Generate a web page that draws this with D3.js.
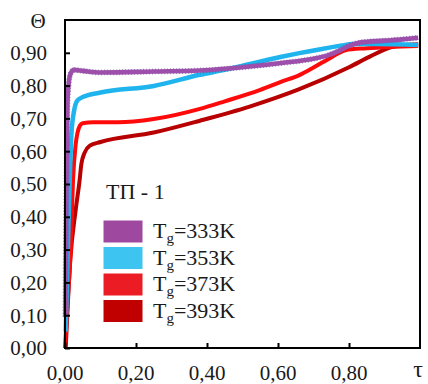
<html>
<head>
<meta charset="utf-8">
<script src="https://cdn.jsdelivr.net/npm/d3@7"></script>
</head>
<body style="margin:0;background:#fff">
<svg id="chart" width="428" height="384" style="display:block">
  <text x="38" y="28" text-anchor="middle" font-family="Liberation Serif" fill="#1a1a1a" font-size="21">Θ</text>
  <text x="418" y="377" text-anchor="middle" font-family="Liberation Serif" fill="#1a1a1a" font-size="24">τ</text>
  <text x="106" y="199" font-family="Liberation Serif" fill="#1a1a1a" font-size="22">ТП - 1</text>
</svg>
<script>
// ---- data ----
const xTicks = [0, 0.2, 0.4, 0.6, 0.8];
const yTicks = [0, 0.1, 0.2, 0.3, 0.4, 0.5, 0.6, 0.7, 0.8, 0.9];
const seriesNames = ["333K", "353K", "373K", "393K"];

const tau333 =   [0.001,0.004,0.007,0.010,0.015,0.025,0.05,0.10,0.25,0.38,0.52,0.61,0.70,0.74,0.77,0.80,0.83,0.90,0.95,0.995];
const theta333 = [0.095,0.50,0.75,0.80,0.835,0.848,0.845,0.840,0.843,0.846,0.858,0.869,0.882,0.892,0.905,0.921,0.931,0.937,0.941,0.946];

const tau353 =   [0.002,0.008,0.013,0.018,0.025,0.035,0.05,0.10,0.25,0.38,0.45,0.52,0.61,0.66,0.72,0.78,0.81,0.87,0.995];
const theta353 = [0.05,0.30,0.50,0.65,0.72,0.755,0.765,0.779,0.799,0.833,0.848,0.866,0.888,0.899,0.911,0.922,0.927,0.927,0.924];

const tau373 =   [0.0,0.008,0.016,0.0225,0.03,0.035,0.042,0.05,0.08,0.15,0.25,0.38,0.45,0.55,0.61,0.66,0.70,0.75,0.79,0.85,0.995];
const theta373 = [0.0,0.15,0.30,0.51,0.62,0.655,0.678,0.685,0.688,0.688,0.698,0.729,0.752,0.787,0.812,0.832,0.855,0.886,0.908,0.914,0.921];

const tau393 =   [0.002,0.015,0.03,0.041,0.046,0.055,0.07,0.10,0.25,0.38,0.52,0.66,0.80,0.86,0.915,0.95,0.995];
const theta393 = [0.0,0.27,0.42,0.51,0.56,0.595,0.617,0.628,0.657,0.693,0.736,0.789,0.856,0.889,0.916,0.923,0.926];

// ---- chart ----
const FONT = "Liberation Serif";
const svg = d3.select("#chart");
const x = d3.scaleLinear().domain([0, 1]).range([65, 420]);
const y = d3.scaleLinear().domain([0, 1]).range([348, 20]);
const fmt = v => d3.format(".2f")(v).replace(".", ",");
const txtColor = "#1a1a1a";

const line = d3.line().x(d => x(d[0])).y(d => y(d[1])).curve(d3.curveMonotoneX);
const zip = (a, b) => a.map((v, i) => [v, b[i]]);

const plot = svg.append("g");
plot.append("path").datum(zip(tau393, theta393)).attr("d", line)
  .attr("fill", "none").attr("stroke", "#b80000").attr("stroke-width", 4);
plot.append("path").datum(zip(tau373, theta373)).attr("d", line)
  .attr("fill", "none").attr("stroke", "#ff0a0a").attr("stroke-width", 4);
plot.append("path").datum(zip(tau353, theta353)).attr("d", line)
  .attr("fill", "none").attr("stroke", "#1fb4ee").attr("stroke-width", 4.5);
plot.append("path").datum(zip(tau333, theta333)).attr("d", line)
  .attr("fill", "none").attr("stroke", "#3a3f86").attr("stroke-width", 5.8)
  .attr("stroke-dasharray", "1,2").attr("opacity", 0.55);
plot.append("path").datum(zip(tau333, theta333)).attr("d", line)
  .attr("fill", "none").attr("stroke", "#9d4fab").attr("stroke-width", 4.6);

// frame
svg.append("rect").attr("x", x(0)).attr("y", y(1))
  .attr("width", x(1) - x(0)).attr("height", y(0) - y(1))
  .attr("fill", "none").attr("stroke", "#000").attr("stroke-width", 2);

// y ticks (inward) and labels
const yAxis = d3.axisRight(y).tickValues(yTicks).tickSize(5).tickFormat("");
const gy = svg.append("g").attr("transform", `translate(${x(0)},0)`).call(yAxis);
gy.select(".domain").remove();
gy.selectAll("line").attr("stroke", "#000").attr("stroke-width", 2);
svg.append("g").selectAll("text").data(yTicks).join("text")
  .attr("x", 47).attr("y", d => y(d)).attr("dy", "0.35em").attr("fill", txtColor)
  .attr("font-family", FONT).attr("text-anchor", "end").attr("font-size", 21).text(fmt);

// x ticks (inward) and labels
const xAxis = d3.axisTop(x).tickValues(xTicks).tickSize(5).tickFormat("");
const gx = svg.append("g").attr("transform", `translate(0,${y(0)})`).call(xAxis);
gx.select(".domain").remove();
gx.selectAll("line").attr("stroke", "#000").attr("stroke-width", 2);
svg.append("g").selectAll("text").data(xTicks).join("text")
  .attr("x", d => x(d)).attr("y", 380).attr("fill", txtColor)
  .attr("font-family", FONT).attr("text-anchor", "middle").attr("font-size", 21).text(fmt);

// legend
const legColors = ["#9e48a0", "#3ec4f0", "#ec1c24", "#c00000"];
const leg = svg.append("g").selectAll("g").data(seriesNames).join("g")
  .attr("transform", (d, i) => `translate(103,${220 + i * 26.5})`);
leg.append("rect").attr("width", 40).attr("height", 23)
  .attr("fill", (d, i) => legColors[i]).attr("stroke", "#fff").attr("stroke-width", 1);
const lt = leg.append("text").attr("x", 50).attr("y", 18).attr("fill", txtColor)
  .attr("font-family", FONT).attr("font-size", 22);
lt.append("tspan").text("T");
lt.append("tspan").attr("dy", 5).attr("font-size", 15).text("g");
lt.append("tspan").attr("dy", -5).text(d => "=" + d);
</script>
</body>
</html>
